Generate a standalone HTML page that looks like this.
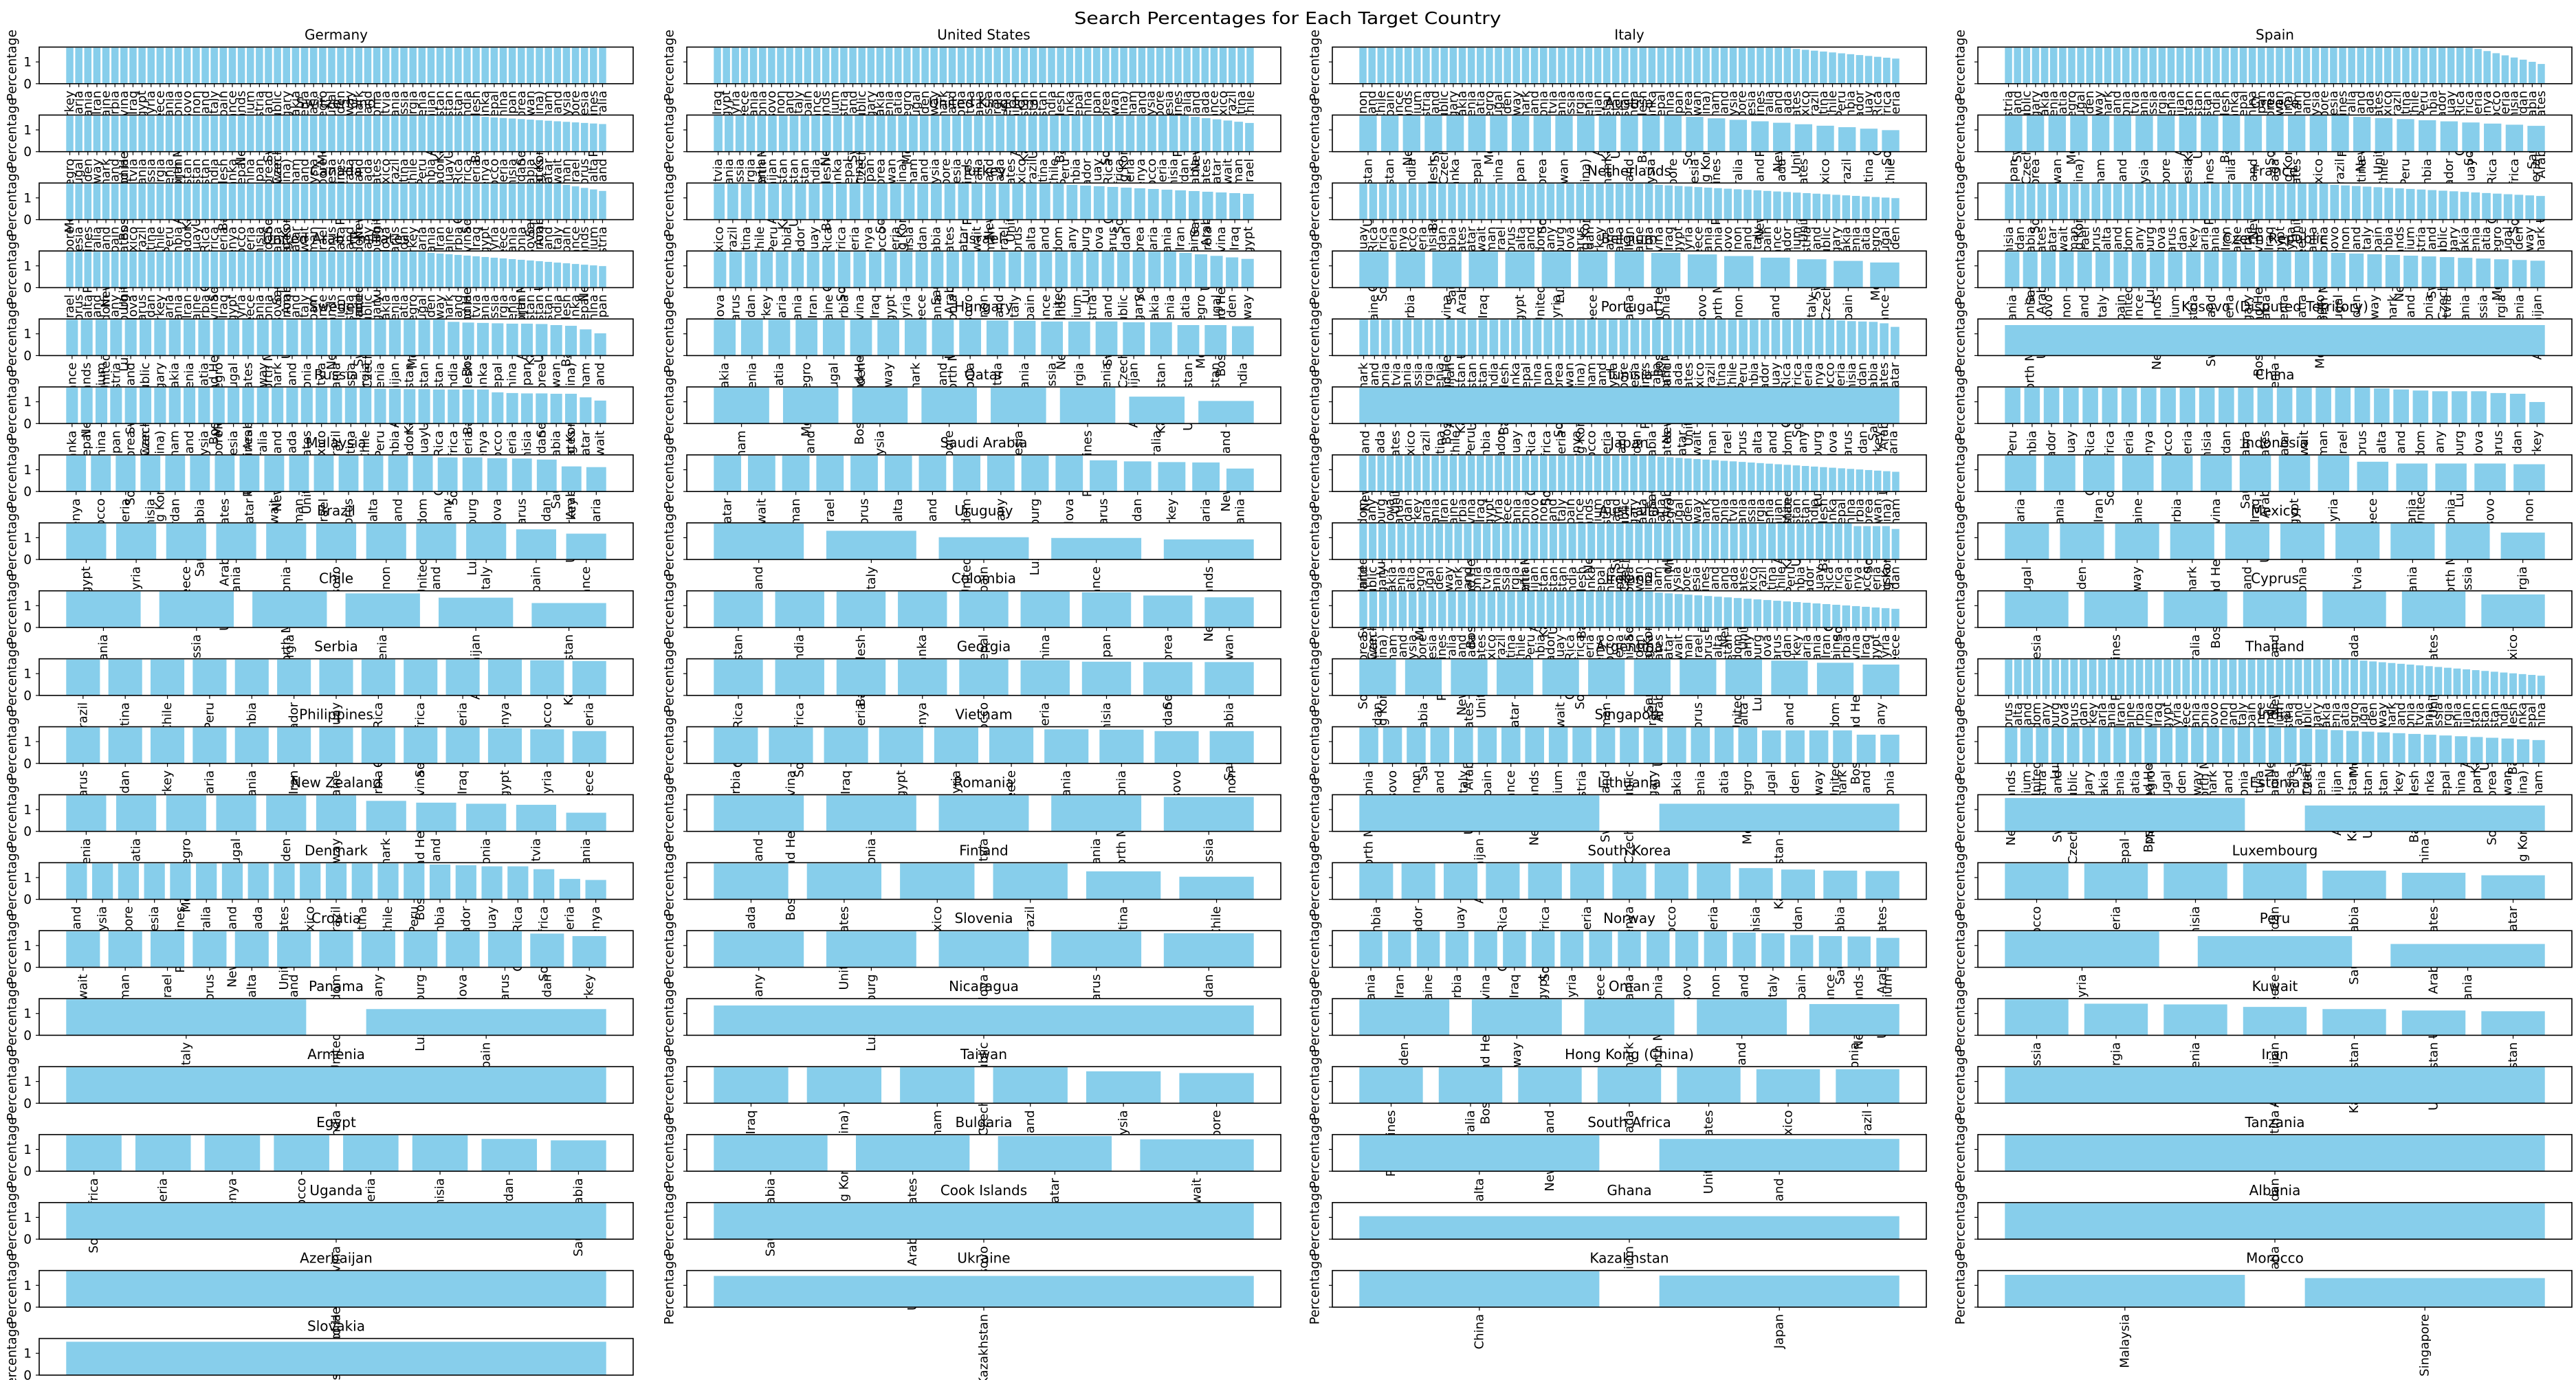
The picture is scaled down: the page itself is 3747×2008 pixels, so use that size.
<!DOCTYPE html>
<html><head><meta charset="utf-8">
<style>
html,body{margin:0;padding:0;background:#fff;width:3747px;height:2008px;overflow:hidden;}
svg{display:block;overflow:hidden;}
text{font-family:"DejaVu Sans","Liberation Sans",sans-serif;fill:#000;}
</style></head>
<body>
<svg width="3747" height="2008" viewBox="0 0 3747 2008" xmlns="http://www.w3.org/2000/svg">
<defs><clipPath id="cp"><rect x="0" y="0" width="3747" height="2008"/></clipPath></defs>
<rect width="3747" height="2008" fill="#fff"/>
<g id="s" clip-path="url(#cp)">
<text x="1873" y="35" font-size="25" text-anchor="middle" textLength="621" lengthAdjust="spacingAndGlyphs">Search Percentages for Each Target Country</text>
</g>
</svg>
<script>
const NAMES=["Turkey","Bulgaria","Romania","Iran","Ukraine","Serbia","Bosnia and Herzegovina","Iraq","Egypt","Syria","Greece","Albania","North Macedonia","Kosovo","Lebanon","Poland","Italy","Spain","France","Netherlands","Belgium","Austria","Switzerland","Czech Republic","Hungary","Slovakia","Slovenia","Croatia","Montenegro","Portugal","Sweden","Norway","Denmark","Finland","Estonia","Latvia","Lithuania","Russia","Georgia","Armenia","Azerbaijan","Kazakhstan","Uzbekistan","Pakistan","India","Bangladesh","Sri Lanka","Nepal","China","Japan","South Korea","Taiwan","Hong Kong (China)","Vietnam","Thailand","Malaysia","Singapore","Indonesia","Philippines","Australia","New Zealand","Canada","United States","Mexico","Brazil","Argentina","Chile","Peru","Colombia","Ecuador","Uruguay","Costa Rica","South Africa","Nigeria","Kenya","Morocco","Algeria","Tunisia","Jordan","Saudi Arabia","United Arab Emirates","Qatar","Kuwait","Oman","Israel","Cyprus","Malta","Ireland","United Kingdom","Germany","Luxembourg","Moldova","Belarus","Sudan"];
function dec(n,k,end){const a=[];for(let i=0;i<n;i++){if(i<k)a.push(1);else{const m=n-k;a.push(m<=1?end:0.97-(0.97-end)*(i-k)/(m-1));}}return a;}
function ft(k,tail){const a=[];for(let i=0;i<k;i++)a.push(1);return a.concat(tail);}
const P=[
["Germany",dec(60,60,1)],["United States",dec(60,60,1)],["Italy",dec(60,48,0.7)],["Spain",dec(60,52,0.55)],
["Switzerland",dec(60,46,0.77)],["United Kingdom",dec(50,44,0.8)],["Austria",dec(25,15,0.6)],["Greece",dec(25,16,0.72)],
["Canada",dec(60,55,0.8)],["Turkey",dec(40,26,0.72)],["Netherlands",dec(55,30,0.6)],["France",dec(50,30,0.66)],
["United Arab Emirates",dec(60,40,0.6)],["Israel",dec(35,30,0.8)],["Belgium",dec(15,8,0.7)],["Czech Republic",dec(30,18,0.75)],
["Sweden",ft(26,[.94,.92,.91,.9,.89,.89,.88,.85,.83,.73,.62])],["Hungary",ft(10,[.98,.97,.95,.95,.95,.93,.93,.85,.85,.82])],["Portugal",ft(44,[.98,.96,.95,.94,.9,.8])],["Kosovo (Disputed Territory)",[.85]],
["Russia",ft(21,[.97,.97,.96,.96,.95,.95,.95,.95,.87,.85,.84,.84,.83,.83,.73,.64])],["Qatar",ft(6,[.75,.63])],["Tunisia","solid"],["China",ft(19,[.98,.95,.92,.9,.9,.9,.85,.83,.6])],
["Malaysia",ft(15,[.95,.95,.93,.92,.89,.7,.68])],["Saudi Arabia",ft(11,[.87,.84,.82,.81,.64])],["Japan",dec(60,33,0.55)],["Indonesia",ft(9,[.83,.78,.78,.78,.76])],
["Brazil",ft(9,[.84,.72])],["Uruguay",[1,.8,.62,.6,.56]],["Australia",ft(52,[.93,.93,.93,.93,.85])],["Mexico",ft(9,[.75])],
["Chile",[1,1,1,.95,.83,.68]],["Colombia",[1,1,1,1,1,1,.98,.89,.84]],["Ireland",dec(55,30,0.52)],["Cyprus",ft(6,[.92])],
["Serbia",ft(11,[.98,.96])],["Georgia",[1,1,1,1,1,.98,.94,.93,.93]],["Argentina",ft(9,[.97,.91,.86])],["Thailand",dec(58,38,0.55)],
["Philippines",ft(10,[.98,.95,.9])],["Vietnam",ft(6,[.95,.94,.9,.9])],["Singapore",ft(17,[.92,.92,.92,.92,.8,.8])],["India",dec(35,19,0.65)],
["New Zealand",ft(6,[.85,.8,.77,.74,.52])],["Romania",[1,1,1,1,.96]],["Lithuania",[1,.77]],["Estonia",[.93,.72]],
["Denmark",ft(14,[.97,.95,.92,.92,.84,.57,.54])],["Finland",[1,1,1,1,.78,.63]],["South Korea",ft(9,[.87,.83,.8,.79])],["Luxembourg",[1,1,1,1,.8,.74,.67]],
["Croatia",ft(11,[.94,.87])],["Slovenia",[1,1,1,1,.95]],["Norway",ft(13,[.97,.95,.9,.87,.86,.82])],["Peru",[1,.87,.65]],
["Panama",[1,.73]],["Nicaragua",[.83]],["Oman",[1,1,1,1,.87]],["Kuwait",[1,.88,.86,.79,.73,.69,.67]],
["Armenia",[1]],["Taiwan",[1,1,1,1,.89,.84]],["Hong Kong (China)",[1,1,1,1,1,.95,.95]],["Iran",[1]],
["Egypt",[1,1,1,1,1,1,.9,.86]],["Bulgaria",[1,1,.98,.89]],["South Africa",[1,.9]],["Tanzania",[1]],
["Uganda",[1]],["Cook Islands",[1]],["Ghana",[.64]],["Albania",[1]],
["Azerbaijan",[1]],["Ukraine",[.87]],["Kazakhstan",[1,.88]],["Morocco",[.9,.81]],
["Slovakia",[.93]]
];
const NS="http://www.w3.org/2000/svg";const svg=document.getElementById("s");
function el(t,a,txt){const e=document.createElementNS(NS,t);for(const k in a)e.setAttribute(k,a[k]);if(txt!==undefined)e.textContent=txt;svg.appendChild(e);return e;}
const AW=864,AH=53.3,FULL=0.98;
P.forEach((p,idx)=>{
 const r=Math.floor(idx/4),c=idx%4;
 const x0=[57,999,1938,2877][c];
 const y0=68.5+98.9*r;const yb=y0+AH;
 let h=p[1];let solid=false;if(h==="solid"){solid=true;h=dec(36,36,1);}
 const n=h.length;const span=n-0.2;const tot=span*1.1;const sc=AW/tot;const ox=x0+span*0.05*sc+0.4*sc;
 el("rect",{x:x0,y:y0,width:AW,height:AH,fill:"#fff"});
 if(solid){el("rect",{x:ox-0.4*sc,y:y0+AH*(1-FULL),width:(n-0.2)*sc,height:AH*FULL,fill:"#87CEEB"});}
 else h.forEach((v,i)=>{const bh=v*FULL*AH;el("rect",{x:ox+(i-0.4)*sc,y:yb-bh,width:0.8*sc,height:bh,fill:"#87CEEB"});});
 el("rect",{x:x0,y:y0,width:AW,height:AH,fill:"none",stroke:"#000","stroke-width":1.6});
 const y1=yb-31.7;
 el("line",{x1:x0-5,y1:yb,x2:x0,y2:yb,stroke:"#000","stroke-width":1.2});
 el("line",{x1:x0-5,y1:y1,x2:x0,y2:y1,stroke:"#000","stroke-width":1.2});
 if(c===0){el("text",{x:x0-11,y:yb+6.5,"font-size":18.5,"text-anchor":"end"},"0");el("text",{x:x0-11,y:y1+6.5,"font-size":18.5,"text-anchor":"end"},"1");}
 const lx=c===0?x0-39:x0-25;const ly=y0+AH/2;
 el("text",{x:lx,y:ly,"font-size":18.5,"text-anchor":"middle","dominant-baseline":"central",transform:`rotate(-90 ${lx} ${ly})`},"Percentage");
 let off=(idx*7)%NAMES.length;
 for(let i=0;i<n;i++){const tx=ox+i*sc;
  el("line",{x1:tx,y1:yb,x2:tx,y2:yb+5,stroke:"#000","stroke-width":1.2});
  let nm=NAMES[(off+i)%NAMES.length];if(nm===p[0])nm=NAMES[(off+i+50)%NAMES.length];
  const ty=yb+10;el("text",{x:tx,y:ty,"font-size":18,"text-anchor":"end","dominant-baseline":"central",transform:`rotate(-90 ${tx} ${ty})`},nm);
 }
 el("text",{x:x0+AW/2,y:y0-11,"font-size":20,"text-anchor":"middle"},p[0]);
});
</script>
</body></html>
